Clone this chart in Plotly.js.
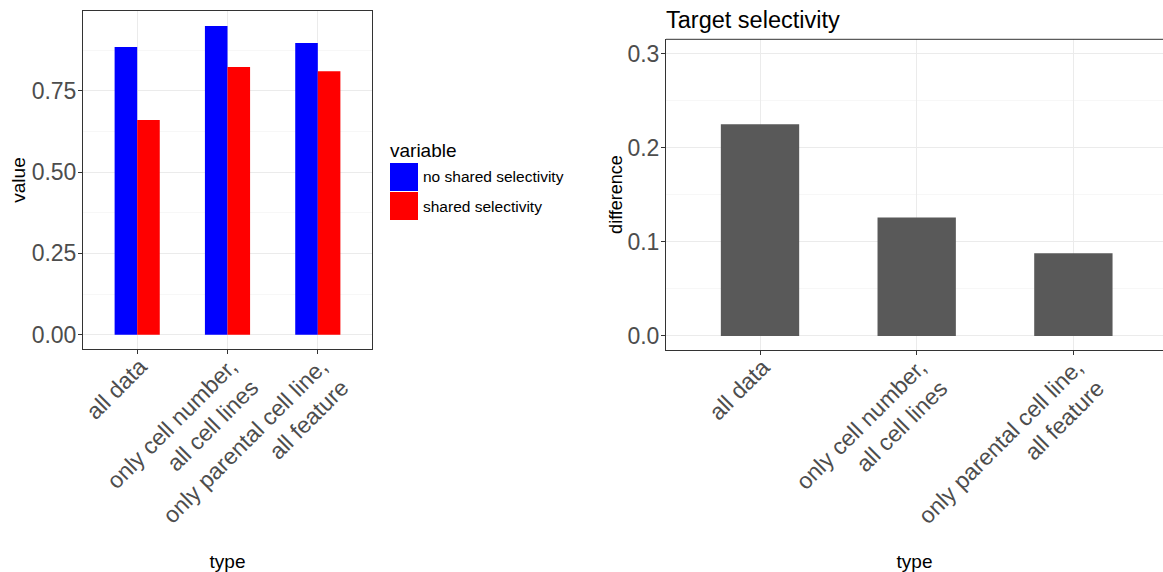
<!DOCTYPE html>
<html>
<head>
<meta charset="utf-8">
<script src="https://cdn.plot.ly/plotly-3.0.1.min.js"></script>
<style>html,body{margin:0;padding:0;background:#fff;}#chart{width:1163px;height:572px;}</style>
</head>
<body>
<div id="chart"></div>
<script>
// ---- data ----
const categories = ["all data", "only cell number,<br>all cell lines", "only parental cell line,<br>all feature"];
const seriesNames = ["no shared selectivity", "shared selectivity"];
const noShared = [0.884, 0.949, 0.897];
const shared = [0.660, 0.823, 0.810];
const difference = [0.225, 0.126, 0.088];
const leftYTicks = [0, 0.25, 0.5, 0.75];
const leftYTickText = ["0.00", "0.25", "0.50", "0.75"];
const rightYTicks = [0, 0.1, 0.2, 0.3];
const rightYTickText = ["0.0", "0.1", "0.2", "0.3"];
const legendTitle = "variable";
const chartTitle = "Target selectivity";

const FONT = "Liberation Sans, Arial, Helvetica, sans-serif";
const W = 1163, H = 572;
const px = x => x / W;
const py = y => 1 - y / H;

const traces = [
  {type: "bar", x: categories, y: noShared, name: seriesNames[0], marker: {color: "#0000FF"}, xaxis: "x", yaxis: "y", showlegend: false, hoverinfo: "y"},
  {type: "bar", x: categories, y: shared, name: seriesNames[1], marker: {color: "#FF0000"}, xaxis: "x", yaxis: "y", showlegend: false, hoverinfo: "y"},
  {type: "bar", x: categories, y: difference, name: "difference", marker: {color: "#595959"}, xaxis: "x2", yaxis: "y2", showlegend: false, hoverinfo: "y"}
];

const axisCommon = {
  showline: true, linecolor: "#333333", linewidth: 1,
  ticks: "outside", ticklen: 4, tickcolor: "#333333", tickwidth: 1,
  showgrid: true, gridcolor: "#ebebeb", gridwidth: 1,
  zeroline: false, automargin: false,
  tickfont: {family: FONT, size: 23, color: "#4d4d4d"}
};

const layout = {
  width: W, height: H,
  margin: {l: 0, r: 0, t: 0, b: 0},
  paper_bgcolor: "#ffffff", plot_bgcolor: "#ffffff",
  font: {family: FONT, color: "#000000"},
  barmode: "group", bargap: 0.5, bargroupgap: 0,
  showlegend: false,
  title: {text: chartTitle, font: {family: FONT, size: 23.5, color: "#000000"}, xref: "paper", yref: "paper", x: px(666), xanchor: "left", y: py(20), yanchor: "middle"},
  xaxis: Object.assign({}, axisCommon, {
    domain: [px(83), px(372)], anchor: "y", type: "category", range: [-0.6, 2.6],
    mirror: true, tickangle: -45, ticklabelstandoff: -10, ticklabelshift: 3,
    title: {text: "type", font: {family: FONT, size: 19, color: "#000000"}, standoff: 26}
  }),
  yaxis: Object.assign({}, axisCommon, {
    domain: [py(349), py(11)], anchor: "x", range: [-0.044, 0.995],
    mirror: true, tickvals: leftYTicks, ticktext: leftYTickText, ticklabelstandoff: -3,
    minor: {dtick: 0.125, tick0: 0, showgrid: true, gridcolor: "#f2f2f2", gridwidth: 0.6, ticks: ""},
    title: {text: "value", font: {family: FONT, size: 19, color: "#000000"}, standoff: 0}
  }),
  xaxis2: Object.assign({}, axisCommon, {
    domain: [px(666), 1], anchor: "y2", type: "category", range: [-0.6, 2.572],
    mirror: false, tickangle: -45, ticklabelstandoff: -10, ticklabelshift: 3,
    title: {text: "type", font: {family: FONT, size: 19, color: "#000000"}, standoff: 26}
  }),
  yaxis2: Object.assign({}, axisCommon, {
    domain: [py(349.7), py(39.3)], anchor: "x2", range: [-0.0146, 0.3153],
    mirror: false, tickvals: rightYTicks, ticktext: rightYTickText, ticklabelstandoff: -3,
    minor: {dtick: 0.05, tick0: 0, showgrid: true, gridcolor: "#f2f2f2", gridwidth: 0.6, ticks: ""},
    title: {text: "difference", font: {family: FONT, size: 18, color: "#000000"}, standoff: 0}
  }),
  shapes: [
    {type: "line", xref: "x2 domain", yref: "y2 domain", x0: 0, x1: 1, y0: 1, y1: 1, line: {color: "#333333", width: 1}},
    {type: "rect", xref: "paper", yref: "paper", x0: px(390), x1: px(418), y0: py(191), y1: py(163), fillcolor: "#0000FF", line: {width: 0}},
    {type: "rect", xref: "paper", yref: "paper", x0: px(390), x1: px(418), y0: py(220), y1: py(192), fillcolor: "#FF0000", line: {width: 0}}
  ],
  annotations: [
    {xref: "paper", yref: "paper", x: px(388), y: py(150), xanchor: "left", yanchor: "middle", showarrow: false, text: legendTitle, font: {family: FONT, size: 19, color: "#000000"}},
    {xref: "paper", yref: "paper", x: px(421), y: py(177), xanchor: "left", yanchor: "middle", showarrow: false, text: seriesNames[0], font: {family: FONT, size: 15.5, color: "#000000"}},
    {xref: "paper", yref: "paper", x: px(421), y: py(206), xanchor: "left", yanchor: "middle", showarrow: false, text: seriesNames[1], font: {family: FONT, size: 15.5, color: "#000000"}}
  ]
};

Plotly.newPlot("chart", traces, layout, {displayModeBar: false, staticPlot: true});
</script>
</body>
</html>
